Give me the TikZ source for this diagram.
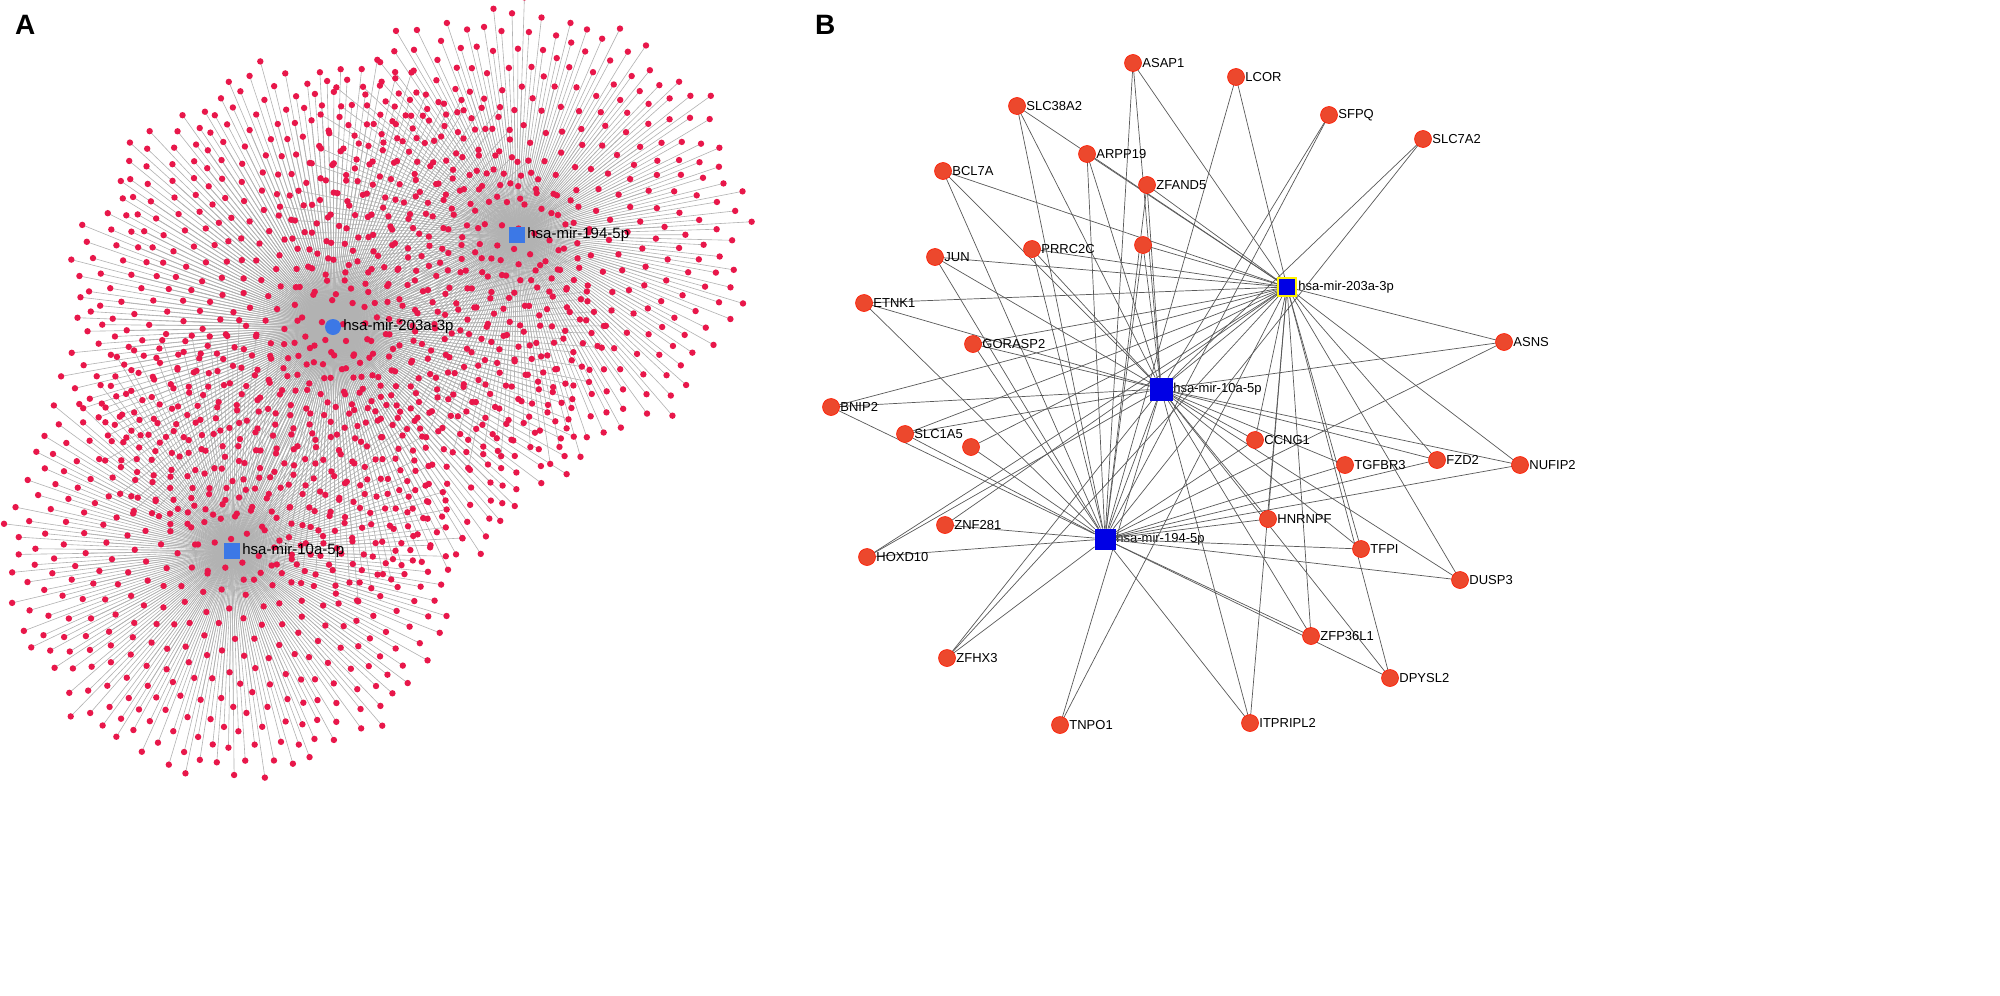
\documentclass[tikz,border=0pt]{standalone}
\usepackage{fontspec}
\setmainfont{Liberation Sans}
\usetikzlibrary{calc}
\definecolor{adot}{RGB}{232,23,74}
\definecolor{gcol}{RGB}{236,72,45}
\definecolor{ahubc}{RGB}{60,120,230}
\begin{document}
\begin{tikzpicture}[x=0.5pt,y=-0.5pt,
  aedge/.style={draw=gray!60,line width=0.3pt},
  ahub/.style={fill=ahubc,draw=none,minimum size=8pt,inner sep=0pt},
  alab/.style={anchor=west,font=\fontsize{7.5}{9}\selectfont,inner sep=1pt},
  gene/.style={circle,fill=gcol,draw=red!80!orange,line width=0.3pt,minimum size=8.5pt,inner sep=0pt},
  glab/.style={font=\fontsize{6.5}{8}\selectfont,inner sep=0.5pt},
  hub/.style={rectangle,fill=blue!90!black,draw=blue!90!black,minimum size=10pt,inner sep=0pt},
  bedge/.style={draw=black!65,line width=0.35pt}]
\useasboundingbox (0,0) rectangle (2000,995);
\fill[white] (0,0) rectangle (2000,995);
\node[font=\bfseries\fontsize{14}{16}\selectfont,anchor=north west] (LA) at (8,8) {A};
\node[font=\bfseries\fontsize{14}{16}\selectfont,anchor=north west] (LB) at (808,8) {B};
% Panel A
\coordinate (h194) at (517,235);
\coordinate (h203) at (333,327);
\coordinate (h10) at (232,551);
\foreach \c/\N/\R/\s in {h203/700/268/3, h194/420/232/5, h10/430/228/7}{
  \foreach \k in {1,...,\N}{
    \pgfmathsetmacro\r{\R*sqrt((\k+8)/(\N+8))*(1+0.035*sin(\k*13+\s*20))}
    \pgfmathsetmacro\a{360*(\k*0.381966-floor(\k*0.381966))}
    \draw[aedge] (\c) -- ($(\c)+(\a:\r)$);
  }
}
\foreach \c/\N/\R/\s in {h203/700/268/3, h194/420/232/5, h10/430/228/7}{
  \foreach \k in {1,...,\N}{
    \pgfmathsetmacro\r{\R*sqrt((\k+8)/(\N+8))*(1+0.035*sin(\k*13+\s*20))}
    \pgfmathsetmacro\a{360*(\k*0.381966-floor(\k*0.381966))}
    \fill[adot] ($(\c)+(\a:\r)$) circle (1.6pt);
  }
}
\node[ahub] (A194) at (h194) {};
\node[alab] (A194l) at (525,235) {hsa-mir-194-5p};
\node[ahub,circle] (A203) at (h203) {};
\node[alab] (A203l) at (341,327) {hsa-mir-203a-3p};
\node[ahub] (A10) at (h10) {};
\node[alab] (A10l) at (240,551) {hsa-mir-10a-5p};
% Panel B hubs
\node[hub,draw=yellow,line width=0.8pt,minimum size=9pt] (M203) at (1287,287) {};
\node[hub,minimum size=11pt] (M10) at (1161,389) {};
\node[hub] (M194) at (1105,539) {};
\node[glab,anchor=west] at (1297,287) {hsa-mir-203a-3p};
\node[glab,anchor=west] at (1172,389) {hsa-mir-10a-5p};
\node[glab,anchor=west] at (1115,539) {hsa-mir-194-5p};
% genes: name/x/y/label/edges
\foreach \n/\x/\y/\t/\e in {
 g1/1133/63/ASAP1/{M203,M10,M194}, g2/1236/77/LCOR/{M203,M194},
 g3/1017/106/SLC38A2/{M203,M10,M194}, g4/1329/115/SFPQ/{M10,M194},
 g5/1423/139/SLC7A2/{M10,M194}, g6/1087/154/ARPP19/{M203,M10,M194},
 g7/943/171/BCL7A/{M203,M10,M194}, g8/1147/185/ZFAND5/{M203,M10,M194},
 g9/935/257/JUN/{M203,M10,M194}, g10/1032/249/PRRC2C/{M203,M10,M194},
 g11/1143/245//{M203,M10,M194}, g12/864/303/ETNK1/{M203,M10,M194},
 g13/973/344/GORASP2/{M203,M10,M194}, g14/1504/342/ASNS/{M203,M10,M194},
 g15/831/407/BNIP2/{M203,M10,M194}, g16/905/434/SLC1A5/{M203,M10,M194},
 g17/971/447//{M203,M194}, g18/1255/440/CCNG1/{M203,M10,M194},
 g19/1345/465/TGFBR3/{M10,M194}, g20/1437/460/FZD2/{M203,M10,M194},
 g21/1520/465/NUFIP2/{M203,M10,M194}, g22/1268/519/HNRNPF/{M203,M10,M194},
 g23/945/525/ZNF281/{M203,M194}, g24/1361/549/TFPI/{M203,M10,M194},
 g25/867/557/HOXD10/{M203,M10,M194}, g26/1460/580/DUSP3/{M203,M10,M194},
 g27/1311/636/ZFP36L1/{M203,M10,M194}, g28/947/658/ZFHX3/{M203,M10,M194},
 g29/1390/678/DPYSL2/{M203,M10,M194}, g30/1060/725/TNPO1/{M203,M10},
 g31/1250/723/ITPRIPL2/{M203,M10,M194}}{
  \coordinate (\n) at (\x,\y);
  \foreach \h in \e { \draw[bedge] (\n) -- (\h); }
}
\draw[bedge] (M203) -- (M10) -- (M194);
\foreach \n/\x/\y/\t in {
 g1/1133/63/ASAP1, g2/1236/77/LCOR, g3/1017/106/SLC38A2, g4/1329/115/SFPQ,
 g5/1423/139/SLC7A2, g6/1087/154/ARPP19, g7/943/171/BCL7A, g8/1147/185/ZFAND5,
 g9/935/257/JUN, g10/1032/249/PRRC2C, g11/1143/245/, g12/864/303/ETNK1,
 g13/973/344/GORASP2, g14/1504/342/ASNS, g15/831/407/BNIP2, g16/905/434/SLC1A5,
 g17/971/447/, g18/1255/440/CCNG1, g19/1345/465/TGFBR3, g20/1437/460/FZD2,
 g21/1520/465/NUFIP2, g22/1268/519/HNRNPF, g23/945/525/ZNF281, g24/1361/549/TFPI,
 g25/867/557/HOXD10, g26/1460/580/DUSP3, g27/1311/636/ZFP36L1, g28/947/658/ZFHX3,
 g29/1390/678/DPYSL2, g30/1060/725/TNPO1, g31/1250/723/ITPRIPL2}{
  \node[gene] (n\n) at (\n) {};
  \node[glab,anchor=west] (l\n) at ($(\n)+(8,0)$) {\t};
}
\node[hub,draw=yellow,line width=0.8pt,minimum size=9pt] at (M203) {};
\node[hub,minimum size=11pt] at (M10) {};
\node[hub] at (M194) {};
\end{tikzpicture}
\end{document}
